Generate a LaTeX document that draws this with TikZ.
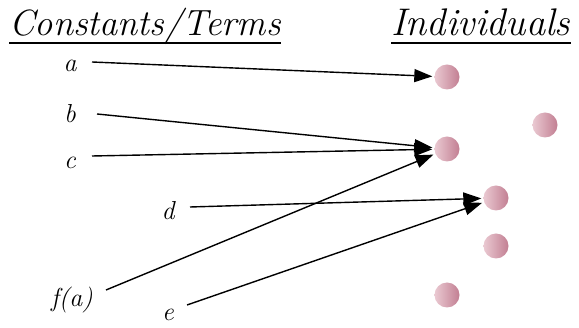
\documentclass[tikz,border=0pt]{standalone}
\usetikzlibrary{arrows.meta}
\definecolor{dotlight}{RGB}{234,202,210}
\definecolor{dotdark}{RGB}{194,126,146}
\tikzset{
  dot/.style={circle,inner sep=0pt,minimum size=25pt,left color=dotlight,right color=dotdark,draw=none},
  lbl/.style={font=\fontsize{26}{29}\selectfont\itshape,inner sep=0pt},
  head/.style={font=\fontsize{36.5}{44}\selectfont\itshape,inner sep=0pt,anchor=base west},
  arr/.style={-{Triangle[length=18pt,width=13pt]},line width=1.4pt,shorten >=2pt}
}
\begin{document}
\begin{tikzpicture}[x=1pt,y=-1pt]
\useasboundingbox (0,0) rectangle (579,328);
\node[head] (h1) at (9,36) {Constants/Terms};
\draw[line width=1.2pt] (h1.base west) ++(0,7) -- ([yshift=-7pt]h1.base east);
\node[head,font=\fontsize{38.5}{44}\selectfont\itshape] (h2) at (391,36) {Individuals};
\draw[line width=1.2pt] (h2.base west) ++(0,7) -- ([yshift=-7pt]h2.base east);
\node[dot] (i1) at (447,77) {};
\node[dot] (i2) at (545,125) {};
\node[dot] (i3) at (447,149) {};
\node[dot] (i4) at (496,198) {};
\node[dot] (i5) at (496,246) {};
\node[dot] (i6) at (447,295) {};
\node[lbl] (a) at (70,66) {a};
\node[lbl] (b) at (70,114) {b};
\node[lbl] (c) at (70,163) {c};
\node[lbl] (d) at (168,211) {d};
\node[lbl] (fa) at (72,300) {f(a)};
\node[lbl] (e) at (168,315) {e};
\coordinate (as) at (92,62);
\coordinate (bs) at (97,114);
\coordinate (cs) at (92,156);
\coordinate (ds) at (190,207);
\coordinate (fs) at (106,290);
\coordinate (es) at (187,305);
\draw[arr] (as) -- (i1);
\draw[arr] (bs) -- (i3);
\draw[arr] (cs) -- (i3);
\draw[arr] (ds) -- (i4);
\draw[arr] (fs) -- (i3);
\draw[arr] (es) -- (i4);
\end{tikzpicture}
\end{document}
